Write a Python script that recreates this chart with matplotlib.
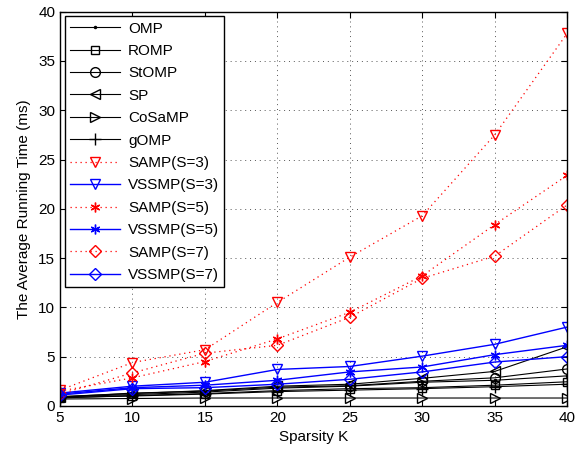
import matplotlib
matplotlib.use("Agg")
import matplotlib.pyplot as plt

plt.rcParams["font.family"] = ["Liberation Sans", "DejaVu Sans"]

# ---------------------------------------------------------------------------
# Data
# ---------------------------------------------------------------------------
K = [5, 10, 15, 20, 25, 30, 35, 40]

omp      = [0.9, 1.15, 1.4, 1.8, 2.0, 2.4, 2.6, 3.05]
romp     = [0.8, 1.05, 1.25, 1.55, 1.75, 1.85, 2.1, 2.45]
stomp    = [0.9, 1.3, 1.5, 1.9, 2.05, 2.5, 2.85, 3.75]
sp       = [0.95, 1.25, 1.55, 2.0, 2.2, 2.8, 3.5, 6.0]
cosamp   = [0.7, 0.75, 0.8, 0.8, 0.8, 0.8, 0.8, 0.8]
gomp     = [0.85, 1.0, 1.2, 1.45, 1.6, 1.75, 1.95, 2.2]
samp_s3  = [1.6, 4.4, 5.7, 10.5, 15.1, 19.3, 27.5, 37.8]
vssmp_s3 = [1.3, 2.0, 2.4, 3.7, 4.0, 5.05, 6.25, 8.0]
samp_s5  = [1.5, 2.85, 4.5, 6.8, 9.5, 13.2, 18.4, 23.4]
vssmp_s5 = [1.2, 1.85, 2.1, 2.6, 3.45, 3.95, 5.2, 6.15]
samp_s7  = [1.2, 3.35, 5.35, 6.15, 9.0, 12.95, 15.2, 20.4]
vssmp_s7 = [1.1, 1.75, 1.85, 2.2, 2.7, 3.45, 4.45, 5.0]

# ---------------------------------------------------------------------------
# Plot
# ---------------------------------------------------------------------------
fig = plt.figure(figsize=(5.77, 4.5), dpi=100)
ax = fig.add_axes([0.104, 0.098, 0.879, 0.876])

dotted = (0, (1, 3))
ms = 7

ax.plot(K, omp, color="black", lw=0.8, marker=".", ms=3, label="OMP")
ax.plot(K, romp, color="black", lw=0.8, marker="s", ms=6, mfc="none", label="ROMP")
ax.plot(K, stomp, color="black", lw=0.8, marker="o", ms=7, mfc="none", label="StOMP")
ax.plot(K, sp, color="black", lw=0.8, marker="<", ms=ms, mfc="none", label="SP")
ax.plot(K, cosamp, color="black", lw=0.8, marker=">", ms=ms, mfc="none", label="CoSaMP")
ax.plot(K, gomp, color="black", lw=0.8, marker="+", ms=8, label="gOMP")
ax.plot(K, samp_s3, color="red", lw=0.9, ls=dotted, marker="v", ms=ms, mfc="none",
        label="SAMP(S=3)")
ax.plot(K, vssmp_s3, color="blue", lw=1.0, marker="v", ms=ms, mfc="none",
        label="VSSMP(S=3)")
ax.plot(K, samp_s5, color="red", lw=0.9, ls=dotted, marker=(6, 2, 0), ms=ms,
        label="SAMP(S=5)")
ax.plot(K, vssmp_s5, color="blue", lw=1.0, marker=(6, 2, 0), ms=ms,
        label="VSSMP(S=5)")
ax.plot(K, samp_s7, color="red", lw=0.9, ls=dotted, marker="D", ms=6, mfc="none",
        label="SAMP(S=7)")
ax.plot(K, vssmp_s7, color="blue", lw=1.0, marker="D", ms=6, mfc="none",
        label="VSSMP(S=7)")

ax.set_xlim(5, 40)
ax.set_ylim(0, 40)
ax.set_xticks(range(5, 41, 5))
ax.set_yticks(range(0, 41, 5))
ax.tick_params(direction="in", top=True, right=True, labelsize=11, length=4)
ax.grid(True, color="#555555", linestyle=(0, (1, 4)), linewidth=0.7)
for s in ax.spines.values():
    s.set_linewidth(1.0)

ax.set_xlabel("Sparsity K", fontsize=11, labelpad=4)
ax.set_ylabel("The Average Running Time (ms)", fontsize=11, labelpad=5)

leg = ax.legend(loc="upper left", fontsize=11, handlelength=3.3,
                labelspacing=0.55, borderaxespad=0.3, fancybox=False,
                edgecolor="black", framealpha=1.0, borderpad=0.35,
                handletextpad=0.5)
leg.get_frame().set_linewidth(1.0)

fig.savefig("out.png", dpi=100)
